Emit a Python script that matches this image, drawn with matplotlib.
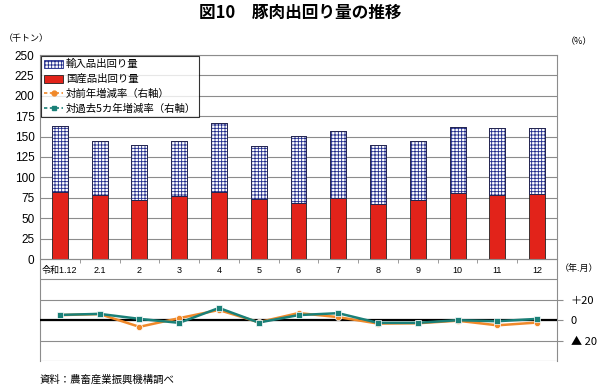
import matplotlib
matplotlib.use("Agg")
import matplotlib.pyplot as plt
from matplotlib.patches import Patch
from matplotlib.lines import Line2D
import numpy as np

plt.rcParams['font.family'] = ['Noto Sans CJK JP', 'DejaVu Sans']
plt.rcParams['hatch.linewidth'] = 0.6
NUM_FONT = ['Liberation Sans', 'Noto Sans CJK JP', 'DejaVu Sans']

categories = ['令和1.12', '2.1', '2', '3', '4', '5', '6', '7', '8', '9', '10', '11', '12']
domestic = [82, 79, 72, 77, 82, 73, 69, 75, 68, 72, 81, 79, 80]
imported = [81, 66, 68, 67, 85, 66, 82, 82, 72, 72, 81, 81, 80]
yoy_change = [5, 6, -6.5, 2, 10, -2, 7, 3, -3.3, -3, -0.5, -5, -2.3]
vs5yr_change = [5.2, 6.2, 1.3, -2.6, 12, -2.3, 5, 6.9, -2.6, -2.6, 0, -1, 1.3]

left_ticks = [0, 25, 50, 75, 100, 125, 150, 175, 200, 225, 250]
right_ticks = [-20, 0, 20]
right_labels = ['▲ 20', '0', '＋20']

grid_c = '#8c8c8c'
red = '#e2231a'
navy = '#1f2a8a'
orange = '#f0892a'
teal = '#1a8078'

fig = plt.figure(figsize=(6.0, 3.89), dpi=100)
ax = fig.add_axes([40/600, 1-361/389, 517/600, 306/389])
x = np.arange(len(categories))

ax.set_xlim(-0.5, len(categories) - 0.5)
ax.set_ylim(-125, 250)

for v in np.arange(-125, 251, 25):
    ax.axhline(v, color=grid_c, lw=0.8, zorder=0)

ax.bar(x, domestic, width=0.4, color=red, edgecolor='#222222', lw=0.6, zorder=2)
ax.bar(x, imported, width=0.4, bottom=domestic, color='white', edgecolor=navy,
       hatch='+++++', lw=0.6, zorder=2)
ax.bar(x, imported, width=0.4, bottom=domestic, fill=False, edgecolor='#222244', lw=0.6, zorder=3)

ax.set_yticks(left_ticks)
ax.set_yticklabels([str(t) for t in left_ticks], fontsize=8.5, family=NUM_FONT)
ax.tick_params(axis='y', length=0, pad=4)

ax.spines['bottom'].set_position(('data', 0))
ax.spines['bottom'].set_color(grid_c)
ax.set_xticks(x)
ax.set_xticklabels(categories, fontsize=6.5, family=NUM_FONT)
ax.set_xticks(np.arange(-0.5, len(categories), 1), minor=True)
ax.tick_params(axis='x', which='major', length=0, pad=5)
ax.tick_params(axis='x', which='minor', length=3, direction='out', color=grid_c)
for s in ['left', 'right', 'top']:
    ax.spines[s].set_color(grid_c)
    ax.spines[s].set_linewidth(0.8)

ax2 = ax.twinx()
ax2.set_ylim(-40, 260)
ax2.axhline(0, color='black', lw=1.6, zorder=3)
ax2.plot(x, yoy_change, color=orange, lw=1.8, marker='o', ms=4.5,
         markeredgecolor='white', markeredgewidth=0.5, zorder=4)
ax2.plot(x, vs5yr_change, color=teal, lw=1.8, marker='s', ms=5,
         markeredgecolor='white', markeredgewidth=0.5, zorder=5)
ax2.set_yticks(right_ticks)
ax2.set_yticklabels(right_labels, fontsize=8, family=['Noto Sans CJK JP', 'DejaVu Sans'])
ax2.tick_params(axis='y', length=4, color=grid_c, pad=6)
for s in ['left', 'right', 'top', 'bottom']:
    ax2.spines[s].set_visible(False)

handles = [
    Patch(facecolor='white', edgecolor=navy, hatch='+++++', lw=0.6),
    Patch(facecolor=red, edgecolor='#222222', lw=0.6),
    Line2D([0], [0], color=orange, lw=1.2, ls=(0, (2, 1.5)), marker='o', ms=3.5),
    Line2D([0], [0], color=teal, lw=1.2, ls=(0, (2, 1.5)), marker='s', ms=3.5),
]
labels = ['輸入品出回り量', '国産品出回り量', '対前年増減率（右軸）', '対過去5カ年増減率（右軸）']
leg = ax2.legend(handles, labels, loc='upper left', bbox_to_anchor=(0.0, 1.0),
                 fontsize=7.5, frameon=True, fancybox=False, edgecolor='black',
                 handlelength=1.8, handleheight=0.8, handletextpad=0.3,
                 labelspacing=0.45, borderpad=0.3, borderaxespad=0.1)
leg.get_frame().set_linewidth(0.8)
leg.set_zorder(10)

fig.text(0.5, 1-13/389, '図10　豚肉出回り量の推移', ha='center', va='center',
         fontsize=12, fontweight='bold')
fig.text(4/600, 1-38/389, '（千トン）', ha='left', va='center', fontsize=6.5)
fig.text(566/600, 1-42/389, '（%）', ha='left', va='center', fontsize=6.5)
fig.text(560/600, 1-268/389, '（年.月）', ha='left', va='center', fontsize=6.5)
fig.text(40/600, 1-380/389, '資料：農畜産業振興機構調べ', ha='left', va='center', fontsize=7.5)

fig.savefig('out.png', dpi=100)
